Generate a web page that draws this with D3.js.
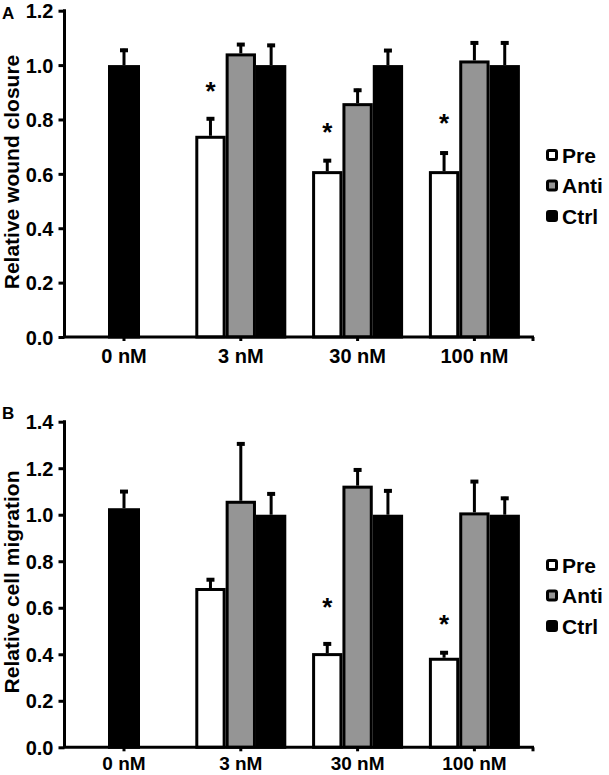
<!DOCTYPE html>
<html><head><meta charset="utf-8">
<script src="https://cdn.jsdelivr.net/npm/d3@7"></script>
<style>body{margin:0;background:#fff}svg{display:block;font-family:"Liberation Sans",Arial,sans-serif;font-weight:bold}</style>
</head><body>
<svg id="chart" width="609" height="775"></svg>
<script>
const categories = ["0 nM", "3 nM", "30 nM", "100 nM"];
const seriesNames = ["Pre", "Anti", "Ctrl"];
const seriesFills = ["#ffffff", "#959595", "#000000"];

// Panel A: Relative wound closure
const preA = [null, 0.74, 0.61, 0.61];
const preAErr = [null, 0.068, 0.044, 0.072];
const antiA = [null, 1.043, 0.86, 1.017];
const antiAErr = [null, 0.038, 0.053, 0.07];
const ctrlA = [1.0, 1.0, 1.0, 1.0];
const ctrlAErr = [0.06, 0.078, 0.059, 0.087];
const starsA = [null, 0.92, 0.77, 0.80];
const ticksA = [0, 0.2, 0.4, 0.6, 0.8, 1.0, 1.2];

// Panel B: Relative cell migration
const preB = [null, 0.685, 0.405, 0.385];
const preBErr = [null, 0.042, 0.046, 0.028];
const antiB = [null, 1.06, 1.125, 1.01];
const antiBErr = [null, 0.251, 0.074, 0.139];
const ctrlB = [1.028, 1.0, 1.0, 1.0];
const ctrlBErr = [0.078, 0.096, 0.109, 0.077];
const starsB = [null, null, 0.62, 0.547];
const ticksB = [0, 0.2, 0.4, 0.6, 0.8, 1.0, 1.2, 1.4];

const svg = d3.select("#chart");

function panel(opts) {
  const g = svg.append("g");
  const x0 = d3.scaleBand().domain(categories).range([65.6, 532.8]).paddingInner(0).paddingOuter(0);
  const groupW = 91;
  const x1 = d3.scaleBand().domain(seriesNames).range([0, groupW]);
  const y = d3.scaleLinear().domain([0, opts.max]).range(opts.yRange);
  const vals = [opts.pre, opts.anti, opts.ctrl];
  const errs = [opts.preErr, opts.antiErr, opts.ctrlErr];

  const bars = [];
  categories.forEach((c, i) => {
    const present = seriesNames.map((s, k) => vals[k][i] != null);
    const count = present.filter(Boolean).length;
    seriesNames.forEach((s, k) => {
      if (vals[k][i] == null) return;
      let left, w;
      if (count === 1) { w = 32; left = x0(c) + x0.bandwidth() / 2 - w / 2; }
      else { w = x1.bandwidth(); left = x0(c) + x0.bandwidth() / 2 - groupW / 2 + x1(s); }
      bars.push({ c, k, v: vals[k][i], e: errs[k][i], left, w });
    });
  });

  // error bars
  const eb = g.append("g").attr("stroke", "#000");
  bars.forEach(b => {
    const cx = b.left + b.w / 2;
    eb.append("line").attr("x1", cx).attr("x2", cx).attr("y1", y(b.v)).attr("y2", y(b.v + b.e)).attr("stroke-width", 3);
    eb.append("line").attr("x1", cx - 4).attr("x2", cx + 4).attr("y1", y(b.v + b.e) + 1.5).attr("y2", y(b.v + b.e) + 1.5).attr("stroke-width", 4);
  });

  g.append("g").selectAll("rect").data(bars).join("rect")
    .attr("x", d => d.left + 1.5).attr("width", d => d.w - 3)
    .attr("y", d => y(d.v) + 1.5).attr("height", d => y(0) - y(d.v) - 1.5)
    .attr("fill", d => seriesFills[d.k]).attr("stroke", "#000").attr("stroke-width", 3);

  // stars
  categories.forEach((c, i) => {
    if (opts.stars[i] == null) return;
    const cx = x0(c) + x0.bandwidth() / 2 - groupW / 2 + x1("Pre") + x1.bandwidth() / 2;
    g.append("text").attr("x", cx).attr("y", y(opts.stars[i]) + 13)
      .attr("text-anchor", "middle").attr("font-size", 26).text("*");
  });

  // y axis
  const yAxis = g.append("g").attr("transform", "translate(64.5,0)")
    .call(d3.axisLeft(y).tickValues(opts.ticks).tickFormat(d3.format(".1f")).tickSize(6).tickPadding(5));
  yAxis.select(".domain").attr("stroke-width", 3).attr("d", `M0,${opts.yRange[1]-1.5}V${opts.yRange[0]}`);
  yAxis.selectAll(".tick line").attr("stroke-width", 3);
  yAxis.selectAll(".tick text").attr("font-size", 20).attr("font-weight", "bold").attr("fill", "#000")
    .attr("font-family", '"Liberation Sans",Arial,sans-serif').attr("dy", "0.36em");

  // x axis
  const xAxis = g.append("g").attr("transform", `translate(0,${opts.yRange[0]})`)
    .call(d3.axisBottom(x0).tickSize(4).tickPadding(opts.xPad));
  xAxis.select(".domain").attr("stroke-width", 3).attr("d", "M63,0H534");
  xAxis.selectAll(".tick line").attr("stroke-width", 3);
  xAxis.selectAll(".tick text").attr("font-size", opts.xFont).attr("font-weight", "bold").attr("fill", "#000")
    .attr("font-family", '"Liberation Sans",Arial,sans-serif');
  xAxis.append("line").attr("x1", 533).attr("x2", 533).attr("y1", 0).attr("y2", 4).attr("stroke", "#000").attr("stroke-width", 3);

  // y label
  g.append("text").attr("transform", `translate(${opts.ylabX},${opts.ylabY}) rotate(-90)`)
    .attr("text-anchor", "middle").attr("font-size", 21).text(opts.ylabel);

  // panel letter
  g.append("text").attr("x", 2).attr("y", opts.letterY).attr("font-size", 17).text(opts.letter);

  // legend
  const lg = g.append("g");
  seriesNames.forEach((s, k) => {
    const cy = opts.legendY + k * 30.5;
    lg.append("rect").attr("x", 547.5).attr("y", cy - 4.5).attr("width", 9).attr("height", 9)
      .attr("rx", 1.5).attr("fill", seriesFills[k]).attr("stroke", "#000").attr("stroke-width", 3);
    lg.append("text").attr("x", 562).attr("y", cy + 7.5).attr("font-size", 21).text(s);
  });
}

panel({ max: 1.2, yRange: [337, 10.7], pre: preA, preErr: preAErr, anti: antiA, antiErr: antiAErr,
  ctrl: ctrlA, ctrlErr: ctrlAErr, stars: starsA, ticks: ticksA, ylabel: "Relative wound closure",
  ylabX: 19, ylabY: 172, letter: "A", letterY: 19, legendY: 155, xPad: 8, xFont: 20 });
panel({ max: 1.4, yRange: [747.3, 421.7], pre: preB, preErr: preBErr, anti: antiB, antiErr: antiBErr,
  ctrl: ctrlB, ctrlErr: ctrlBErr, stars: starsB, ticks: ticksB, ylabel: "Relative cell migration",
  ylabX: 19, ylabY: 582, letter: "B", letterY: 419, legendY: 565, xPad: 5, xFont: 19 });
</script>
</body></html>
